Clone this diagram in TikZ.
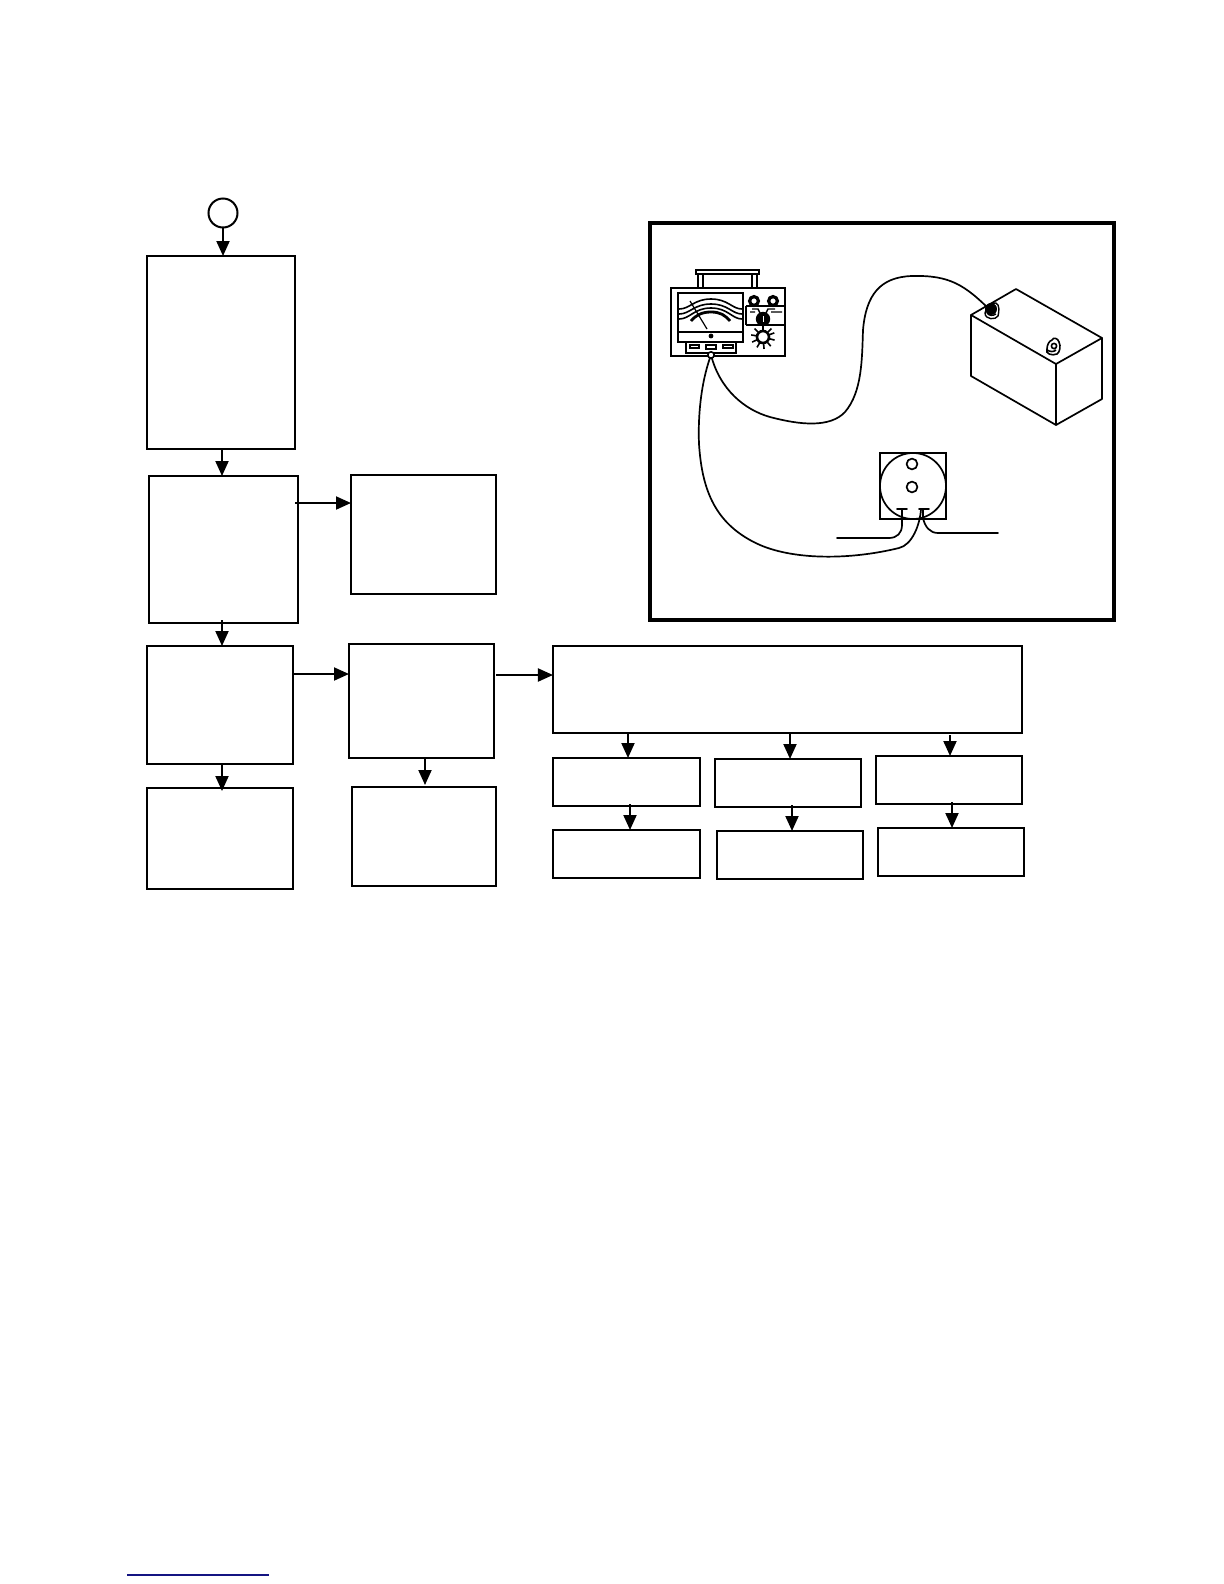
\documentclass[tikz,border=0pt]{standalone}
\usetikzlibrary{arrows.meta}
\tikzset{
  flowbox/.style={draw=black,line width=1bp,fill=white,inner sep=0pt,outer sep=0pt},
  arr/.style={line width=1bp,-{Triangle[length=7.5bp,width=6.5bp]}},
  wire/.style={line width=0.85bp,line join=round,line cap=round},
  thin line/.style={line width=0.8bp},
  heavy/.style={line width=1.4bp},
}
% name, x1, y1, x2, y2 (reference pixels)
\newcommand{\flowrect}[5]{%
  \pgfmathsetmacro{\bw}{(#4-#2)*0.5}\pgfmathsetmacro{\bh}{(#5-#3)*0.5}%
  \node[flowbox,minimum width=\bw bp,minimum height=\bh bp] (#1) at ({(#2+#4)/2},{(#3+#5)/2}) {};}
\begin{document}
\begin{tikzpicture}[x=0.5bp,y=-0.5bp]
\useasboundingbox (0,0) rectangle (1224,1584);
% flowchart boxes
\node[flowbox,circle,minimum size=14.5bp] (start) at (223,213) {};
\flowrect{b1}{147}{256}{295}{449}
\flowrect{b2}{149}{476}{298}{623}
\flowrect{b3}{351}{475}{496}{594}
\flowrect{b4}{147}{646}{293}{764}
\flowrect{b5}{349}{644}{494}{758}
\flowrect{b6}{553}{646}{1022}{733}
\flowrect{b7}{147}{788}{293}{889}
\flowrect{b8}{352}{787}{496}{886}
\flowrect{b9}{553}{758}{700}{806}
\flowrect{b10}{715}{759}{861}{807}
\flowrect{b11}{876}{756}{1022}{804}
\flowrect{b12}{553}{830}{700}{878}
\flowrect{b13}{717}{831}{863}{879}
\flowrect{b14}{878}{828}{1024}{876}
% guide coordinates for the connector columns and rows
\coordinate (xa) at (222,0);
\coordinate (xb) at (425,0);
\coordinate (xc) at (628,0);
\coordinate (xd) at (790,0);
\coordinate (xe) at (950,0);
\coordinate (xf) at (630,0);
\coordinate (xg) at (792,0);
\coordinate (xh) at (952,0);
\coordinate (ya) at (0,503);
\coordinate (yb) at (0,674);
\coordinate (yc) at (0,675);
% connectors
\draw[arr] (start.south) -- (b1.north -| start.south);
\draw[arr] (b1.south -| xa) -- (b2.north -| xa);
\draw[arr] ([yshift=1.5bp]b2.south -| xa) -- (b4.north -| xa);
\draw[arr] (b2.east |- ya) ++(-3,0) -- (b3.west |- ya);
\draw[arr] (b4.east |- yb) -- (b5.west |- yb);
\draw[arr] (b5.east |- yc) ++(2,0) -- (b6.west |- yc);
\draw[arr] (b4.south -| xa) -- ([yshift=-1.5bp]b7.north -| xa);
\draw[arr] (b5.south -| xb) -- ([yshift=1bp]b8.north -| xb);
\draw[arr] (b6.south -| xc) -- (b9.north -| xc);
\draw[arr] (b6.south -| xd) -- (b10.north -| xd);
\draw[arr] ([yshift=-1bp]b6.south -| xe) -- (b11.north -| xe);
\draw[arr] ([yshift=1bp]b9.south -| xf) -- (b12.north -| xf);
\draw[arr] ([yshift=1bp]b10.south -| xg) -- (b13.north -| xg);
\draw[arr] ([yshift=1bp]b11.south -| xh) -- (b14.north -| xh);
% illustration frame
\draw[line width=2bp] (650,223) rectangle (1114,620);
% wires
\draw[wire] (711,355) .. controls (700,385) and (698,420) .. (699,444)
  .. controls (702,490) and (715,525) .. (760,545)
  .. controls (795,560) and (850,560) .. (899,548)
  .. controls (912,545) and (920,525) .. (921,509);
\draw[wire] (711,355) .. controls (720,390) and (745,410) .. (770,417)
  .. controls (800,425) and (830,428) .. (845,412)
  .. controls (862,392) and (862,360) .. (863,330)
  .. controls (866,295) and (880,277) .. (912,276)
  .. controls (950,275) and (965,285) .. (992,312);
% meter
\draw[thin line] (696,270) rectangle (759,274);
\draw[thin line] (698,274) -- (698,288) (703,274) -- (703,288) (752,274) -- (752,288) (757,274) -- (757,288);
\draw[heavy,fill=white] (671,288) rectangle (785,356);
\draw[heavy,fill=white] (678,293) rectangle (743,342);
\draw[thin line] (678,332) -- (743,332);
\draw[line width=0.8bp] (679,309) .. controls (690,309) and (694,299) .. (711,299) .. controls (728,299) and (732,309) .. (742,309);
\draw[line width=0.8bp] (679,314) .. controls (690,314) and (694,304) .. (711,304) .. controls (728,304) and (732,314) .. (742,314);
\draw[line width=0.8bp] (679,319) .. controls (690,319) and (694,308) .. (711,308) .. controls (728,308) and (732,319) .. (742,319);
\draw[line width=1.4bp] (691,321) .. controls (696,315) and (702,312) .. (711,312) .. controls (720,312) and (725,315) .. (730,321);
\draw[line width=0.6bp] (690,301) -- (707,329);
\fill (711,336) circle (1.2bp);
\draw[heavy,fill=white] (686,342) rectangle (736,353);
\draw[line width=0.6bp] (690,345) rectangle (699,348) (723,345) rectangle (733,348);
\draw[line width=0.8bp] (706,345) rectangle (716,349);
\draw[line width=1.6bp] (754,301) circle (2.2bp) (773,301) circle (2.2bp);
\draw[heavy] (746,306) -- (785,306) (746,325) -- (785,325) (746,306) -- (746,325);
\draw[line width=0.7bp] (752,309) -- (758,309) -- (761,315) (765,315) -- (768,309) -- (775,309) (771,312) -- (782,312) (750,312) -- (755,312);
\fill (763,319) circle (3.6bp);
\draw[white,line width=0.5bp] (763,316) -- (763,322);
\draw[line width=1.3bp] (763,337) circle (3bp);
\foreach \a in {-20,15,50,85,120,155,190,225,270,315}
  \draw[line width=0.8bp] (763,337) ++(\a:7) -- ++(\a:5);
\draw[thin line,fill=white] (711,355) circle (1.6bp);
% battery
\draw[wire,fill=white,line join=round] (971,315) -- (1016,289) -- (1102,338) -- (1102,399) -- (1056,425) -- (971,376) -- cycle;
\draw[wire] (971,315) -- (1056,364) -- (1102,338) (1056,364) -- (1056,425);
\draw[line width=0.7bp,fill=white] (985,313) .. controls (986,306) and (992,302) .. (996,303) .. controls (1000,305) and (999,312) .. (998,316) .. controls (996,320) and (985,320) .. (985,313) -- cycle;
\fill (991,309) circle (3bp);
\draw[line width=0.7bp] (987,313) .. controls (989,316) and (993,316) .. (996,314);
\draw[line width=0.8bp,fill=white] (1047,349) .. controls (1047,345) and (1049,341) .. (1052,340) .. controls (1053,337) and (1058,338) .. (1059,342) .. controls (1061,346) and (1060,352) .. (1057,354) .. controls (1052,356) and (1045,354) .. (1047,349) -- cycle;
\draw[line width=0.8bp] (1054,346) circle (1.3bp) (1047,350) .. controls (1050,352) and (1054,352) .. (1056,350);
% motor
\draw[thin line] (880,453) rectangle (946,519);
\draw[wire] (913,486) circle (16.5bp);
\draw[wire] (912,464) circle (2.7bp) (912,487) circle (2.7bp);
\draw[wire] (897,509) -- (907,509) (919,509) -- (929,509);
\draw[wire] (902,509) -- (902,525) .. controls (902,533) and (897,538) .. (889,538) -- (837,538);
\draw[wire] (923,509) -- (923,518) .. controls (925,527) and (930,533) .. (938,533) -- (998,533);
% bottom rule
\draw[color={rgb,255:red,20;green,20;blue,130},line width=0.8bp] (127,1575) -- (269,1575);
\end{tikzpicture}
\end{document}
